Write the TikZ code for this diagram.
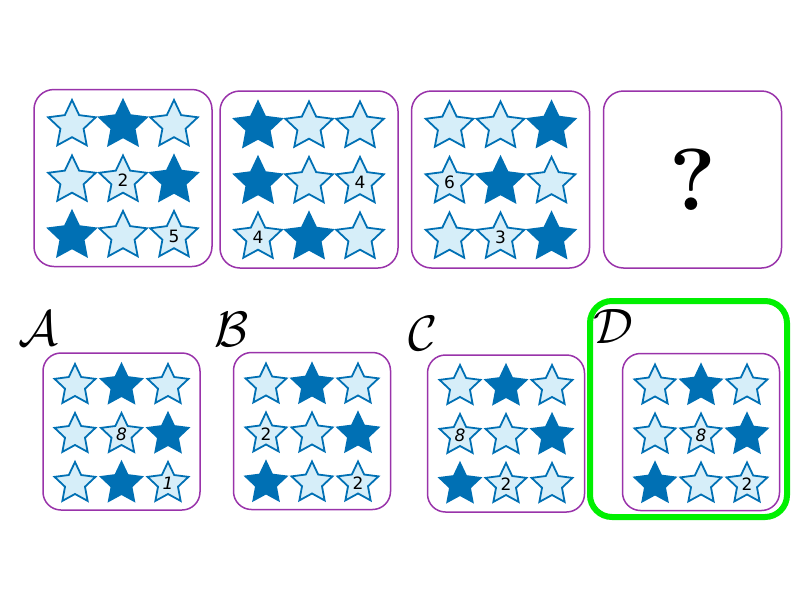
\documentclass[tikz,border=0pt]{standalone}
\usepackage{fontspec}
\newfontfamily\digitfont{DejaVu Sans}
\usetikzlibrary{shapes.geometric}
\definecolor{starblue}{RGB}{0,112,180}
\definecolor{starpale}{RGB}{214,238,249}
\definecolor{boxpurple}{RGB}{153,51,170}
\definecolor{pickgreen}{RGB}{0,240,0}
\tikzset{
	board/.style={
		rectangle,
		rounded corners=20pt,
		fill=white,
		draw=boxpurple, line width=1.5pt,
		minimum width=178pt,
		minimum height=177pt},
	choice/.style={
		rectangle,
		rounded corners=18pt,
		fill=white,
		draw=boxpurple, line width=1.5pt,
		minimum width=157pt,
		minimum height=157pt},
	pick/.style={
		rectangle,
		rounded corners=22pt,
		draw=pickgreen, line width=6pt,
		minimum width=197pt,
		minimum height=216pt},
	lit/.style={
		star, star points=5, star point ratio=2.05,
		inner sep=0pt,
		fill=starpale,
		draw=starblue, line width=1.8pt,
		font=\digitfont\fontsize{17}{17}\selectfont},
	dark/.style={
		star, star points=5, star point ratio=2.05,
		inner sep=0pt,
		fill=starblue,
		draw=starblue, line width=1.8pt},
	letter/.style={
		inner sep=0pt,
		font=\Huge,
		scale=2, transform shape}
}
% #1 board, #2 column step, #3 row step, #4 row offset, #5 star size, #6 cells
\newcommand{\fillboard}[6]{%
	\foreach \kind/\num [count=\i from 0] in {#6} {
		\pgfmathtruncatemacro{\col}{mod(\i,3)-1}
		\pgfmathtruncatemacro{\row}{div(\i,3)-1}
		\node[\kind, minimum size=#5pt] (#1-\i) at ([shift={(\col*#2,\row*#3+#4)}]#1.center) {\num};
	}
}

\begin{document}
\begin{tikzpicture}[x=1pt, y=-1pt]
\fill[white] (0,0) rectangle (800,600);
\useasboundingbox (0,0) rectangle (800,600);
% question row
\node[board] (box1) at (123,178) {};
\node[board] (box2) at (309,179.5) {};
\node[board] (box3) at (500.5,179.5) {};
\node[board, font=\bfseries\fontsize{88}{88}\selectfont] (box4) at (692.5,179.5) {?};
\fillboard{box1}{51}{55.5}{2.5}{50}{lit/{},dark/{},lit/{},lit/{},lit/2,dark/{},dark/{},lit/{},lit/5}
\fillboard{box2}{51}{55.5}{2.5}{50}{dark/{},lit/{},lit/{},dark/{},lit/{},lit/4,lit/4,dark/{},lit/{}}
\fillboard{box3}{51}{55.5}{2.5}{50}{lit/{},lit/{},dark/{},lit/6,dark/{},lit/{},lit/{},lit/3,dark/{}}
% answer row
\node[pick] (pick) at (688.5,409) {};
\node[choice] (optA) at (121.5,431.5) {};
\node[choice] (optB) at (312,431) {};
\node[choice] (optC) at (506,433.5) {};
\node[choice] (optD) at (701,432) {};
\node[letter] (labA) at (38,328) {$\mathcal{A}$};
\node[letter] (labB) at (232,329) {$\mathcal{B}$};
\node[letter] (labC) at (423,333) {$\mathcal{C}$};
\node[letter] (labD) at (613,326) {$\mathcal{D}$};
\fillboard{optA}{46.5}{49}{3}{43}{lit/{},dark/{},lit/{},lit/{},lit/\textit{8},dark/{},lit/{},dark/{},lit/\textit{1}}
\fillboard{optB}{46}{49}{3}{43}{lit/{},dark/{},lit/{},lit/2,lit/{},dark/{},dark/{},lit/{},lit/2}
\fillboard{optC}{46}{49}{2}{43}{lit/{},dark/{},lit/{},lit/\textit{8},lit/{},dark/{},dark/{},lit/2,lit/{}}
\fillboard{optD}{46}{49}{3}{43}{lit/{},dark/{},lit/{},lit/{},lit/\textit{8},dark/{},dark/{},lit/{},lit/2}
\end{tikzpicture}
\end{document}
